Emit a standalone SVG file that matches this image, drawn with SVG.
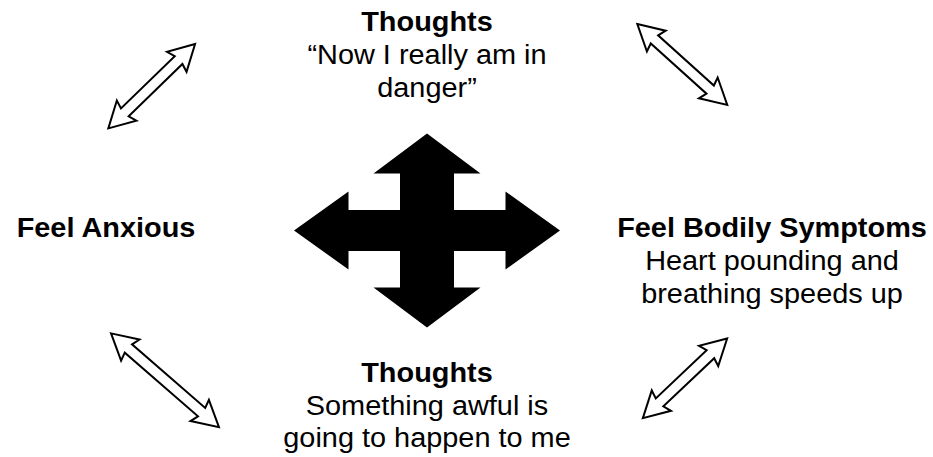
<svg xmlns="http://www.w3.org/2000/svg" width="933" height="457" viewBox="0 0 933 457">
  <style>
    text { font-family: "Liberation Sans", Arial, Helvetica, sans-serif; font-size: 27px; fill: #000; text-anchor: middle; }
    .b { font-weight: bold; }
    .dbl { fill: #fff; stroke: #000; stroke-width: 2; stroke-linejoin: miter; }
  </style>
  <rect width="933" height="457" fill="#fff"/>

  <g id="connectors">
    <path class="dbl" transform="translate(151.7,86.2) rotate(-44.2)" d="M-60.5,0 L-35,-14 L-37.5,-5.5 L37.5,-5.5 L35,-14 L60.5,0 L35,14 L37.5,5.5 L-37.5,5.5 L-35,14 Z"/>
    <path class="dbl" transform="translate(682.3,64.5) rotate(42)" d="M-60.5,0 L-35,-14 L-37.5,-5.5 L37.5,-5.5 L35,-14 L60.5,0 L35,14 L37.5,5.5 L-37.5,5.5 L-35,14 Z"/>
    <path class="dbl" transform="translate(165,380.3) rotate(41)" d="M-71.5,0 L-46,-14 L-48.5,-5.5 L48.5,-5.5 L46,-14 L71.5,0 L46,14 L48.5,5.5 L-48.5,5.5 L-46,14 Z"/>
    <path class="dbl" transform="translate(685,378.3) rotate(-43.4)" d="M-58,0 L-32.5,-14 L-35,-5.5 L35,-5.5 L32.5,-14 L58,0 L32.5,14 L35,5.5 L-35,5.5 L-32.5,14 Z"/>
  </g>

  <g id="hub">
    <polygon fill="#000" points="427,133.5 480.5,173.5 454,173.5 454,210 505.5,210 505.5,191.5 560,230.5 505.5,269.5 505.5,251 454,251 454,287.5 480.5,287.5 427,327.5 373.5,287.5 400,287.5 400,251 348.5,251 348.5,269.5 294,230.5 348.5,191.5 348.5,210 400,210 400,173.5 373.5,173.5"/>
  </g>

  <g id="node-thoughts-top">
    <text transform="translate(427,0) scale(1.07,1)"><tspan class="b" x="0" y="31">Thoughts</tspan><tspan x="0" y="64">“Now I really am in</tspan><tspan x="0" y="97">danger”</tspan></text>
  </g>

  <g id="node-feel-anxious">
    <text class="b" transform="translate(106,0) scale(1.07,1)" x="0" y="237">Feel Anxious</text>
  </g>

  <g id="node-bodily">
    <text transform="translate(772,0) scale(1.07,1)"><tspan class="b" x="0" y="237">Feel Bodily Symptoms</tspan><tspan x="0" y="270">Heart pounding and</tspan><tspan x="0" y="303">breathing speeds up</tspan></text>
  </g>

  <g id="node-thoughts-bottom">
    <text transform="translate(427,0) scale(1.07,1)"><tspan class="b" x="0" y="382">Thoughts</tspan><tspan x="0" y="415">Something awful is</tspan><tspan x="0" y="447">going to happen to me</tspan></text>
  </g>
</svg>
